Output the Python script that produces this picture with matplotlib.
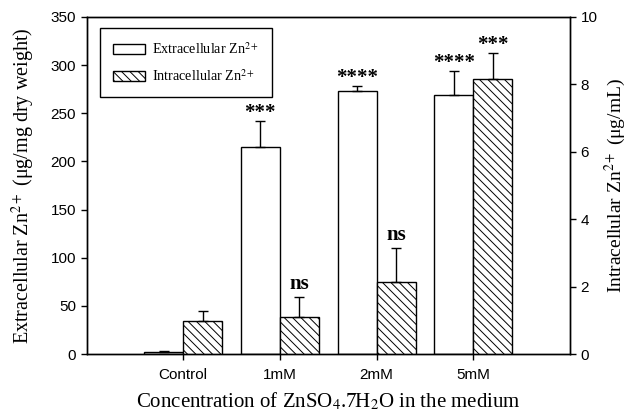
import matplotlib
matplotlib.use("Agg")
import matplotlib.pyplot as plt
import numpy as np
from matplotlib.patches import Patch

# data
groups = ['Control', '1mM', '2mM', '5mM']
extra_vals = [2.5, 215, 273, 269]
extra_err = [1.0, 27, 5, 25]
intra_vals = [0.97, 1.10, 2.15, 8.17]
intra_err = [0.30, 0.60, 0.99, 0.77]
extra_sig = ['', '***', '****', '****']
intra_sig = ['', 'ns', 'ns', '***']

plt.rcParams['mathtext.fontset'] = 'stix'
serif = 'Liberation Serif'
sans = 'Liberation Sans'

fig = plt.figure(figsize=(6.3, 4.18), dpi=100)
ax = fig.add_axes([86.5 / 630, 1 - 354 / 418, 483.5 / 630, 337 / 418])
ax2 = ax.twinx()

x = np.arange(len(groups))
w = 0.404
hatch = '\\\\\\\\'
plt.rcParams['hatch.linewidth'] = 0.7

ax.bar(x - w / 2, extra_vals, w, color='white', edgecolor='black', linewidth=1.0,
       yerr=[np.zeros(len(x)), extra_err], error_kw=dict(ecolor='black', elinewidth=1.0,
                                                          capsize=3.3, capthick=1.0), zorder=2)
ax2.bar(x + w / 2, intra_vals, w, color='white', edgecolor='black', linewidth=1.0, hatch=hatch,
        yerr=[np.zeros(len(x)), intra_err], error_kw=dict(ecolor='black', elinewidth=1.0,
                                                           capsize=3.3, capthick=1.0), zorder=2)


def mark(a, xpos, ytop, s):
    # stars are drawn heavier than 'ns'
    if s == 'ns':
        a.annotate(s, (xpos, ytop), xytext=(0, 2), textcoords='offset points', ha='center',
                   va='bottom', fontsize=15, fontweight='bold', family=serif)
    else:
        a.annotate(s, (xpos, ytop), xytext=(0, -1.5), textcoords='offset points', ha='center',
                   va='bottom', fontsize=15, fontweight='bold', family=serif)


for i in range(len(groups)):
    if extra_sig[i]:
        mark(ax, x[i] - w / 2, extra_vals[i] + extra_err[i], extra_sig[i])
    if intra_sig[i]:
        mark(ax2, x[i] + w / 2, intra_vals[i] + intra_err[i], intra_sig[i])

ax.set_xlim(-1, 4)
ax.set_ylim(0, 350)
ax2.set_ylim(0, 10)
ax.set_xticks(x)
ax.set_xticklabels(groups, family=sans, fontsize=11)
ax.set_yticks(np.arange(0, 351, 50))
ax2.set_yticks(np.arange(0, 11, 2))
for lab in ax.get_yticklabels() + ax2.get_yticklabels():
    lab.set_family(sans)
    lab.set_fontsize(11)
for a in (ax, ax2):
    a.tick_params(direction='out', length=4, width=1)
    for s in a.spines.values():
        s.set_linewidth(1.0)
ax.tick_params(axis='x', pad=6)

ax.set_ylabel('Extracellular Zn$^{2+}$ (μg/mg dry weight)', family=serif, fontsize=14.5)
ax2.set_ylabel('Intracellular Zn$^{2+}$ (μg/mL)', family=serif, fontsize=14, rotation=90)
ax.yaxis.set_label_coords(-0.102, 0.5)
ax2.yaxis.set_label_coords(1.068, 0.5)
ax.set_xlabel('Concentration of ZnSO$_4$.7H$_2$O in the medium', family=serif, fontsize=15)
ax.xaxis.set_label_coords(0.5, -0.11)

handles = [Patch(facecolor='white', edgecolor='black', linewidth=1.0),
           Patch(facecolor='white', edgecolor='black', linewidth=1.0, hatch=hatch)]
leg = ax2.legend(handles, ['Extracellular Zn$^{2+}$', 'Intracellular Zn$^{2+}$'],
                 loc='upper left', bbox_to_anchor=(0.028, 0.967), borderaxespad=0,
                 prop={'family': serif, 'size': 10.2}, fancybox=False, edgecolor='black',
                 framealpha=1, handlelength=2.3, handleheight=0.75, borderpad=0.9,
                 labelspacing=0.8, handletextpad=0.5)
leg.get_frame().set_linewidth(1.0)

fig.savefig('out.png', dpi=100)
